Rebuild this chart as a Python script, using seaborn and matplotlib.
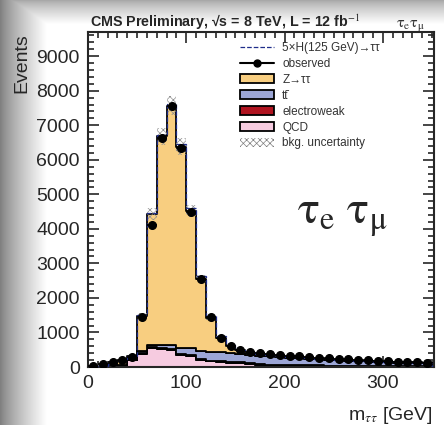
import numpy as np
import pandas as pd
import matplotlib
matplotlib.use("Agg")
import matplotlib.pyplot as plt
import seaborn as sns
from matplotlib.lines import Line2D
from matplotlib.patches import Patch
from matplotlib.ticker import MultipleLocator

# 10 GeV bins from 0 to 350 GeV
edges = np.arange(0, 360, 10)
mass = edges[:-1] + 5

ztautau = [10, 30, 60, 100, 90, 1020, 3780, 6040, 6930, 5830, 3970, 2080, 1000, 430, 200,
           100, 60, 40, 30, 25, 20, 18, 15, 12, 10, 10, 8, 8, 6, 6, 5, 5, 4, 4, 3]
ttbar = [0, 5, 10, 15, 30, 70, 80, 90, 130, 180, 200, 230, 245, 245, 245,
         245, 225, 250, 240, 230, 215, 205, 195, 180, 170, 160, 150, 140, 135, 125, 115, 110, 100, 95, 85]
electroweak = [0, 0, 2, 5, 10, 20, 30, 30, 30, 30, 30, 30, 25, 25, 25,
               25, 25, 20, 20, 20, 20, 20, 15, 15, 15, 15, 12, 12, 10, 10, 10, 8, 8, 8, 8]
qcd = [0, 5, 15, 40, 190, 380, 540, 520, 480, 340, 310, 210, 160, 150, 130,
       110, 100, 60, 50, 40, 40, 35, 30, 30, 25, 25, 20, 20, 15, 15, 15, 10, 10, 10, 10]
signal_5x = [0, 0, 0, 0, 0, 5, 15, 30, 50, 70, 80, 75, 60, 40, 25,
             15, 10, 5, 0, 0, 0, 0, 0, 0, 0, 0, 0, 0, 0, 0, 0, 0, 0, 0, 0]
observed = [20, 100, 140, 200, 300, 1460, 4120, 6620, 7560, 6330, 4480, 2560, 1440, 840, 620,
            500, 440, 400, 370, 350, 330, 310, 290, 270, 250, 235, 220, 205, 190, 180, 165, 155, 145, 135, 125]
bkg_unc = [2, 4, 6, 8, 12, 60, 170, 250, 280, 240, 170, 100, 60, 35, 25,
           20, 18, 16, 15, 14, 13, 12, 11, 10, 10, 9, 9, 8, 8, 7, 7, 6, 6, 6, 5]

processes = ["Z→ττ", "tt̄", "electroweak", "QCD"]
colors = {"Z→ττ": "#F8CE80", "tt̄": "#9CA6D6", "electroweak": "#B01420", "QCD": "#F6CBE0"}

df = pd.concat([
    pd.DataFrame({"mass": mass, "events": ztautau, "process": "Z→ττ"}),
    pd.DataFrame({"mass": mass, "events": ttbar, "process": "tt̄"}),
    pd.DataFrame({"mass": mass, "events": electroweak, "process": "electroweak"}),
    pd.DataFrame({"mass": mass, "events": qcd, "process": "QCD"}),
])
total = np.array(ztautau) + np.array(ttbar) + np.array(electroweak) + np.array(qcd)

sns.set_style("ticks")
plt.rcParams["font.family"] = ["Liberation Sans", "DejaVu Sans"]
plt.rcParams["mathtext.fontset"] = "stix"
plt.rcParams["hatch.linewidth"] = 0.5

fig = plt.figure(figsize=(4.44, 4.25), dpi=100)

# grey slide border behind the plot
bg = fig.add_axes([0, 0, 1, 1], zorder=-5)
xx = np.clip(np.arange(444) / 46.0, 0, 1)
yy = np.clip(np.arange(425) / 24.0, 0, 1)
left = 0.5 + 0.5 * xx ** 0.8
top = 0.66 + 0.34 * yy ** 0.8
grad = np.minimum(left[None, :], top[:, None])
bg.imshow(grad, cmap="gray", vmin=0, vmax=1, aspect="auto", extent=[0, 1, 0, 1])
bg.axis("off")

ax = fig.add_axes([88 / 444, 1 - 367 / 425, 346 / 444, 335 / 425])
ax.set_facecolor("white")

sns.histplot(data=df, x="mass", weights="events", hue="process", hue_order=processes,
             multiple="stack", element="step", binwidth=10, binrange=(0, 350), palette=colors,
             alpha=1, edgecolor="black", linewidth=1.3, legend=False, ax=ax)

ax.bar(mass, 2 * np.array(bkg_unc), bottom=total - np.array(bkg_unc), width=10,
       fill=False, hatch="xxxxx", edgecolor="#909090", linewidth=0, zorder=3)
ax.stairs(total + np.array(signal_5x), edges, color="#1F2D8A", linestyle="--", linewidth=0.9, zorder=4)
ax.errorbar(mass, observed, xerr=5, yerr=np.sqrt(observed), fmt="o", color="black",
            markersize=5.5, linewidth=1.2, capsize=0, zorder=5)

ax.set_xlim(0, 352)
ax.set_ylim(0, 9700)
ax.set_xlabel("")
ax.set_ylabel("")
ax.xaxis.set_major_locator(MultipleLocator(100))
ax.xaxis.set_minor_locator(MultipleLocator(10))
ax.yaxis.set_major_locator(MultipleLocator(1000))
ax.yaxis.set_minor_locator(MultipleLocator(200))
ax.tick_params(which="both", direction="in", top=True, right=True, width=1.2, labelsize=14)
ax.tick_params(which="major", length=8, pad=6)
ax.tick_params(which="minor", length=4)
for s in ax.spines.values():
    s.set_linewidth(1.5)

ax.text(0.005, 1.014, r"CMS Preliminary, √s = 8 TeV, L = 12 fb$^{-1}$", transform=ax.transAxes,
        fontsize=10.3, fontweight="bold", ha="left", va="baseline")
ax.text(0.975, 1.014, r"$\mathrm{\tau}_{\mathrm{e}}\mathrm{\tau}_{\mathrm{\mu}}$", transform=ax.transAxes,
        fontsize=11.5, color="#333333", ha="right", va="baseline")
ax.text(0.605, 0.43, r"$\mathrm{\tau}_{\mathrm{e}}\ \mathrm{\tau}_{\mathrm{\mu}}$", transform=ax.transAxes,
        fontsize=33, ha="left", va="baseline")

fig.text(22 / 444, 1 - 33 / 425, "Events", rotation=90, fontsize=14, ha="center", va="top")
fig.text(433 / 444, 1 - 415 / 425, r"m$_{\tau\tau}$ [GeV]", fontsize=14, ha="right", va="center")

handles = [
    Line2D([], [], color="#1F2D8A", linestyle="--", linewidth=0.9),
    Line2D([], [], color="black", marker="o", markersize=5, linewidth=1.5),
    Patch(facecolor=colors["Z→ττ"], edgecolor="black", linewidth=1.3),
    Patch(facecolor=colors["tt̄"], edgecolor="black", linewidth=1.3),
    Patch(facecolor=colors["electroweak"], edgecolor="black", linewidth=1.3),
    Patch(facecolor=colors["QCD"], edgecolor="black", linewidth=1.3),
    Patch(facecolor="white", edgecolor="#808080", hatch="xxxxx", linewidth=0),
]
labels = ["5×H(125 GeV)→ττ", "observed", "Z→ττ", "tt̄", "electroweak", "QCD", "bkg. uncertainty"]
leg = ax.legend(handles, labels, loc="upper left", bbox_to_anchor=(0.44, 0.97), frameon=False,
                fontsize=8.5, handlelength=2.9, handleheight=0.85, labelspacing=0.33,
                handletextpad=0.65, borderpad=0, borderaxespad=0)
for t in leg.get_texts():
    t.set_color("#333333")

fig.savefig("out.png", dpi=100)
